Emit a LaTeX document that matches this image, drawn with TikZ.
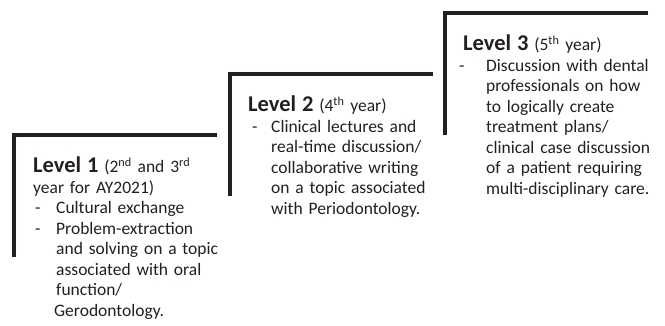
\documentclass[tikz,border=0pt]{standalone}
\usepackage{fontspec}
\setmainfont{Carlito}
\definecolor{lvink}{HTML}{231F20}
\newcommand{\lvdash}[1][2pt]{\makebox[23pt][l]{\hspace{#1}-}}
\newcommand{\lvgap}{\hspace*{23pt}}
\newcommand{\lvhead}[1]{{\fontsize{22.5}{22}\selectfont\bfseries Level #1}}
\tikzset{
  levtext/.style={anchor=base west, inner sep=0pt, align=left, text width=200pt,
    font=\fontsize{17.5}{20.5}\selectfont, text=lvink},
  levline/.style={line width=4pt, lvink}
}
\begin{document}
\begin{tikzpicture}[x=1pt, y=-1pt]
  \useasboundingbox (0,0) rectangle (665,326);
  % the three steps
  \foreach \x/\y in {14/135, 230/74, 445/13}
    \draw [levline] (\x+203,\y) -| (\x,\y+122);
  \node [levtext] (lev1) at (33,173) {\lvhead{1} (2\textsuperscript{nd} and 3\textsuperscript{rd}\\
    year for AY2021)\\
    \lvdash Cultural exchange\\
    \lvdash Problem-extraction\\
    \lvgap and solving on a topic\\
    \lvgap associated with oral\\
    \lvgap function/\\
    \hspace*{21pt}Gerodontology.};
  \node [levtext] (lev2) at (248,112) {\lvhead{2} (4\textsuperscript{th} year)\\
    \lvdash[4pt]Clinical lectures and\\
    \lvgap real-time discussion/\\
    \lvgap collaborative writing\\
    \lvgap on a topic associated\\
    \lvgap with Periodontology.};
  \node [levtext] (lev3) at (463,51) {\lvhead{3} (5\textsuperscript{th} year)\\
    \lvdash[-4pt]Discussion with dental\\
    \lvgap professionals on how\\
    \lvgap to logically create\\
    \lvgap treatment plans/\\
    \lvgap clinical case discussion\\
    \lvgap of a patient requiring\\
    \lvgap multi-disciplinary care.};
\end{tikzpicture}
\end{document}
